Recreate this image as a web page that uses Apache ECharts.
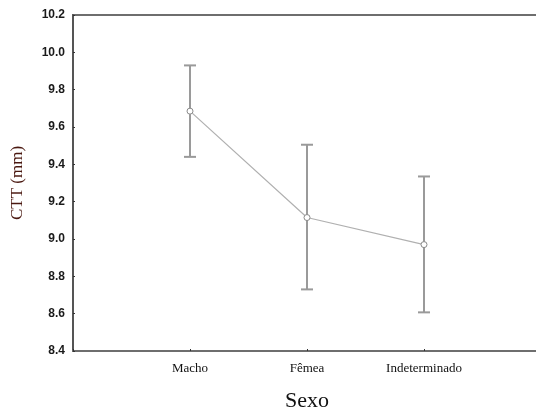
<!DOCTYPE html>
<html>
<head>
<meta charset="utf-8">
<script src="https://cdn.jsdelivr.net/npm/echarts@6/dist/echarts.min.js"></script>
<style>
    html, body { margin: 0; padding: 0; background: #fff; }
</style>
</head>
<body>
<div id="chart" style="width: 536px;height:411px;"></div>
<script type="text/javascript">
    var categories = ['Macho', 'Fêmea', 'Indeterminado'];
    var means = [9.685, 9.115, 8.97];
    var upper = [9.93, 9.505, 9.335];
    var lower = [9.44, 8.73, 8.607];
    var yTicks = [8.4, 8.6, 8.8, 9.0, 9.2, 9.4, 9.6, 9.8, 10.0, 10.2];

    var chart = echarts.init(document.getElementById('chart'));

    var lineData = means.map(function (v, i) { return [i + 1, v]; });
    var barData = means.map(function (v, i) { return [i + 1, lower[i], upper[i]]; });

    var option = {
        backgroundColor: '#fff',
        animation: false,
        grid: {
            left: 73,
            right: -5,
            top: 15,
            bottom: 60,
            outerBoundsMode: 'none',
            containLabel: false,
            show: true,
            borderColor: '#6e6e6e',
            borderWidth: 2
        },
        xAxis: {
            type: 'value',
            min: 0,
            max: 4,
            interval: 1,
            splitLine: { show: false },
            axisLine: { show: true, lineStyle: { color: '#6e6e6e', width: 2 } },
            axisTick: {
                show: true,
                inside: true,
                length: 2,
                lineStyle: { color: '#333', width: 1 }
            },
            axisLabel: {
                margin: 11,
                fontFamily: 'Liberation Serif',
                fontSize: 13,
                color: '#111',
                formatter: function (v) {
                    return categories[v - 1] || '';
                }
            },
            name: 'Sexo',
            nameLocation: 'middle',
            nameGap: 39,
            nameTextStyle: {
                fontFamily: 'Liberation Serif',
                fontSize: 22,
                color: '#111'
            }
        },
        yAxis: {
            type: 'value',
            min: yTicks[0],
            max: yTicks[yTicks.length - 1],
            interval: 0.2,
            splitLine: { show: false },
            axisLine: { show: true, lineStyle: { color: '#555', width: 2 } },
            axisTick: {
                show: true,
                inside: true,
                length: 2,
                lineStyle: { color: '#333', width: 1 }
            },
            axisLabel: {
                margin: 8,
                fontFamily: 'Liberation Sans',
                fontWeight: 'bold',
                fontSize: 12,
                color: '#1a1a1a',
                formatter: function (v) { return v.toFixed(1); }
            },
            name: 'CTT (mm)',
            nameLocation: 'middle',
            nameGap: 47,
            nameTextStyle: {
                fontFamily: 'Liberation Serif',
                fontSize: 17,
                color: '#4a1810'
            }
        },
        series: [
            {
                type: 'custom',
                data: barData,
                z: 2,
                renderItem: function (params, api) {
                    var x = api.value(0);
                    var lo = api.coord([x, api.value(1)]);
                    var hi = api.coord([x, api.value(2)]);
                    var half = 6;
                    var style = { stroke: '#9a9a9a', lineWidth: 2 };
                    return {
                        type: 'group',
                        children: [
                            { type: 'line', shape: { x1: hi[0], y1: hi[1], x2: lo[0], y2: lo[1] }, style: style },
                            { type: 'line', shape: { x1: hi[0] - half, y1: hi[1], x2: hi[0] + half, y2: hi[1] }, style: style },
                            { type: 'line', shape: { x1: lo[0] - half, y1: lo[1], x2: lo[0] + half, y2: lo[1] }, style: style }
                        ]
                    };
                }
            },
            {
                type: 'line',
                data: lineData,
                z: 3,
                symbol: 'circle',
                symbolSize: 6,
                showAllSymbol: true,
                lineStyle: { color: '#b0b0b0', width: 1.2 },
                itemStyle: { color: '#fff', borderColor: '#8a8a8a', borderWidth: 1 }
            }
        ]
    };
    chart.setOption(option);
</script>
</body>
</html>
